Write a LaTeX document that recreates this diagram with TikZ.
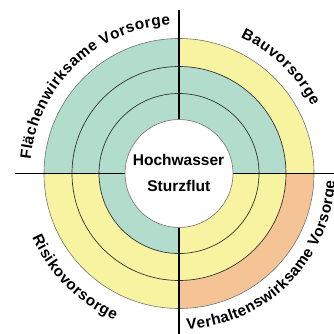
\documentclass[tikz,border=0pt]{standalone}
\usepackage{fontspec}
\setmainfont{Liberation Sans}
\usetikzlibrary{decorations.text}
\definecolor{gr}{HTML}{B2DCCC}
\definecolor{ye}{HTML}{F8F3A0}
\definecolor{orn}{HTML}{F5C496}
\newcommand\arcfont{\bfseries\fontsize{15.3}{16}\selectfont}
\begin{document}
\begin{tikzpicture}[x=1pt,y=1pt,
  ring/.style={draw=black!80,line width=0.7pt},
  axis/.style={draw=black,line width=1.2pt},
  centertext/.style={font=\bfseries\fontsize{15.5}{16}\selectfont,anchor=base,inner sep=0pt},
  arctext/.style={decorate,decoration={text along path,text align=fit to path,text={|\arcfont|#1}}}]
\useasboundingbox (0,0) rectangle (334,333);
\coordinate (C) at (179,159.5);
\coordinate (N) at (179,323);
\coordinate (S) at (179,-2);
\coordinate (W) at (15,159.5);
\coordinate (E) at (336,159.5);
\newcommand\sector[3]{\fill[#1] (C) -- ++(#2:#3) arc (#2:#2+90:#3) -- cycle;}
% outer ring
\sector{ye}{0}{135}\sector{gr}{90}{135}\sector{ye}{180}{135}\sector{orn}{270}{135}
% middle ring
\sector{gr}{0}{107}\sector{gr}{90}{107}\sector{ye}{180}{107}\sector{ye}{270}{107}
% inner ring
\sector{gr}{0}{80}\sector{gr}{90}{80}\sector{gr}{180}{80}\sector{ye}{270}{80}
\draw[ring] (C) circle (80);
\draw[ring] (C) circle (107);
\draw[draw=black!55,line width=0.6pt] (C) circle (135);
\draw[axis] (N) -- (C);
\draw[axis] (S) -- (C);
\draw[axis] (W) -- (C);
\draw[axis] (E) -- (C);
\filldraw[fill=white,draw=black!55,line width=0.6pt] (C) circle (54);
\node[centertext] (hw) at (178.5,167.3) {Hochwasser};
\node[centertext] (sf) at (178.8,141.3) {Sturzflut};
\path[arctext={Flächenwirksame Vorsorge},shift={(C)}] (174.7:149) arc (174.7:93.4:149);
\path[arctext={Bauvorsorge},shift={(C)}] (65.6:149) arc (65.6:26.9:149);
\path[arctext={Risikovorsorge},shift={(C)}] (203.5:160) arc (203.5:246.3:160);
\path[arctext={Verhaltenswirksame Vorsorge},shift={(C)}] (272.9:156) arc (272.9:357.3:156);
\end{tikzpicture}
\end{document}
